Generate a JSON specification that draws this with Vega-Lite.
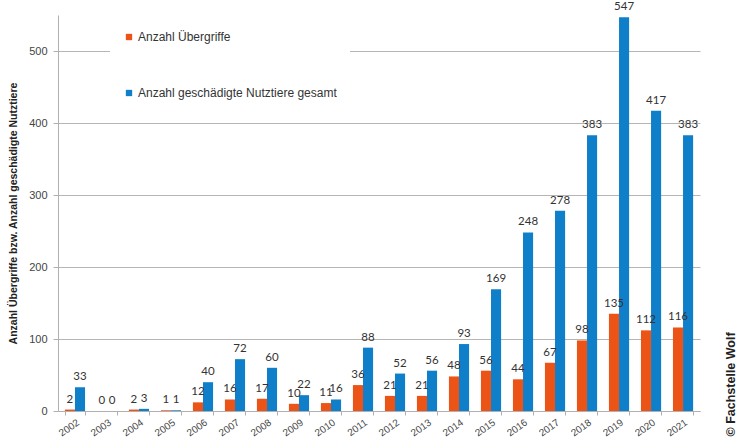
{
  "$schema": "https://vega.github.io/schema/vega-lite/v6.json",
  "width": 642,
  "height": 396,
  "autosize": {"type": "none"},
  "padding": {"left": 58, "top": 15, "right": 36, "bottom": 26},
  "background": "white",
  "config": {
    "view": {"stroke": null},
    "font": "Liberation Sans"
  },
  "data": {
    "values": [
      {"Jahr": "2002", "Serie": "Anzahl Übergriffe", "Wert": 2},
      {"Jahr": "2002", "Serie": "Anzahl geschädigte Nutztiere gesamt", "Wert": 33},
      {"Jahr": "2003", "Serie": "Anzahl Übergriffe", "Wert": 0},
      {"Jahr": "2003", "Serie": "Anzahl geschädigte Nutztiere gesamt", "Wert": 0},
      {"Jahr": "2004", "Serie": "Anzahl Übergriffe", "Wert": 2},
      {"Jahr": "2004", "Serie": "Anzahl geschädigte Nutztiere gesamt", "Wert": 3},
      {"Jahr": "2005", "Serie": "Anzahl Übergriffe", "Wert": 1},
      {"Jahr": "2005", "Serie": "Anzahl geschädigte Nutztiere gesamt", "Wert": 1},
      {"Jahr": "2006", "Serie": "Anzahl Übergriffe", "Wert": 12},
      {"Jahr": "2006", "Serie": "Anzahl geschädigte Nutztiere gesamt", "Wert": 40},
      {"Jahr": "2007", "Serie": "Anzahl Übergriffe", "Wert": 16},
      {"Jahr": "2007", "Serie": "Anzahl geschädigte Nutztiere gesamt", "Wert": 72},
      {"Jahr": "2008", "Serie": "Anzahl Übergriffe", "Wert": 17},
      {"Jahr": "2008", "Serie": "Anzahl geschädigte Nutztiere gesamt", "Wert": 60},
      {"Jahr": "2009", "Serie": "Anzahl Übergriffe", "Wert": 10},
      {"Jahr": "2009", "Serie": "Anzahl geschädigte Nutztiere gesamt", "Wert": 22},
      {"Jahr": "2010", "Serie": "Anzahl Übergriffe", "Wert": 11},
      {"Jahr": "2010", "Serie": "Anzahl geschädigte Nutztiere gesamt", "Wert": 16},
      {"Jahr": "2011", "Serie": "Anzahl Übergriffe", "Wert": 36},
      {"Jahr": "2011", "Serie": "Anzahl geschädigte Nutztiere gesamt", "Wert": 88},
      {"Jahr": "2012", "Serie": "Anzahl Übergriffe", "Wert": 21},
      {"Jahr": "2012", "Serie": "Anzahl geschädigte Nutztiere gesamt", "Wert": 52},
      {"Jahr": "2013", "Serie": "Anzahl Übergriffe", "Wert": 21},
      {"Jahr": "2013", "Serie": "Anzahl geschädigte Nutztiere gesamt", "Wert": 56},
      {"Jahr": "2014", "Serie": "Anzahl Übergriffe", "Wert": 48},
      {"Jahr": "2014", "Serie": "Anzahl geschädigte Nutztiere gesamt", "Wert": 93},
      {"Jahr": "2015", "Serie": "Anzahl Übergriffe", "Wert": 56},
      {"Jahr": "2015", "Serie": "Anzahl geschädigte Nutztiere gesamt", "Wert": 169},
      {"Jahr": "2016", "Serie": "Anzahl Übergriffe", "Wert": 44},
      {"Jahr": "2016", "Serie": "Anzahl geschädigte Nutztiere gesamt", "Wert": 248},
      {"Jahr": "2017", "Serie": "Anzahl Übergriffe", "Wert": 67},
      {"Jahr": "2017", "Serie": "Anzahl geschädigte Nutztiere gesamt", "Wert": 278},
      {"Jahr": "2018", "Serie": "Anzahl Übergriffe", "Wert": 98},
      {"Jahr": "2018", "Serie": "Anzahl geschädigte Nutztiere gesamt", "Wert": 383},
      {"Jahr": "2019", "Serie": "Anzahl Übergriffe", "Wert": 135},
      {"Jahr": "2019", "Serie": "Anzahl geschädigte Nutztiere gesamt", "Wert": 547},
      {"Jahr": "2020", "Serie": "Anzahl Übergriffe", "Wert": 112},
      {"Jahr": "2020", "Serie": "Anzahl geschädigte Nutztiere gesamt", "Wert": 417},
      {"Jahr": "2021", "Serie": "Anzahl Übergriffe", "Wert": 116},
      {"Jahr": "2021", "Serie": "Anzahl geschädigte Nutztiere gesamt", "Wert": 383}
    ]
  },
  "encoding": {
    "x": {
      "field": "Jahr",
      "type": "ordinal",
      "scale": {"paddingInner": 0.37, "paddingOuter": 0.215},
      "axis": {
        "title": null,
        "labelAngle": -35,
        "labelAlign": "right",
        "labelBaseline": "top",
        "labelFontSize": 10,
        "labelColor": "#444444",
        "labelPadding": 2,
        "domainColor": "#b0b0b0",
        "tickColor": "#b0b0b0",
        "tickBand": "extent",
        "tickSize": 4,
        "grid": false
      }
    },
    "xOffset": {
      "field": "Serie",
      "type": "nominal",
      "sort": ["Anzahl Übergriffe", "Anzahl geschädigte Nutztiere gesamt"]
    },
    "y": {
      "field": "Wert",
      "type": "quantitative",
      "scale": {"domain": [0, 550], "nice": false},
      "axis": {
        "title": "Anzahl Übergriffe bzw. Anzahl geschädigte Nutztiere",
        "titleFontSize": 10.5,
        "titleFontWeight": "bold",
        "titleColor": "#222222",
        "titlePadding": 10,
        "values": [0, 100, 200, 300, 400, 500],
        "labelFontSize": 11,
        "labelColor": "#444444",
        "labelPadding": 6,
        "domainColor": "#b0b0b0",
        "tickColor": "#b0b0b0",
        "tickSize": 5,
        "gridColor": "#b5b5b5",
        "gridWidth": 1
      }
    }
  },
  "layer": [
    {
      "mark": {"type": "bar"},
      "encoding": {
        "color": {
          "field": "Serie",
          "type": "nominal",
          "scale": {
            "domain": ["Anzahl Übergriffe", "Anzahl geschädigte Nutztiere gesamt"],
            "range": ["#ec5316", "#0f7fc9"]
          },
          "legend": {
            "title": null,
            "orient": "none",
            "legendX": 52,
            "legendY": 3,
            "direction": "vertical",
            "symbolType": "square",
            "symbolSize": 40,
            "symbolStrokeWidth": 0,
            "labelFontSize": 12,
            "labelColor": "#333333",
            "labelOffset": 3,
            "rowPadding": 44,
            "padding": 13,
            "fillColor": "white",
            "labelLimit": 400
          }
        }
      }
    },
    {
      "mark": {"type": "text", "baseline": "bottom", "dy": -5, "fontSize": 11.5, "font": "Lato", "color": "#333333"},
      "encoding": {
        "text": {"field": "Wert", "type": "quantitative"},
        "y": {
          "field": "Wert",
          "type": "quantitative",
          "axis": {
            "orient": "right",
            "title": "© Fachstelle Wolf",
            "titleAngle": 270,
            "titleFontSize": 12.5,
            "titleFontWeight": "bold",
            "titleColor": "#222222",
            "titleX": 30,
            "titleY": 421,
            "titleAlign": "left",
            "titleBaseline": "middle",
            "labels": false,
            "ticks": false,
            "domain": false,
            "grid": false
          }
        }
      }
    }
  ],
  "resolve": {"axis": {"y": "independent"}}
}
